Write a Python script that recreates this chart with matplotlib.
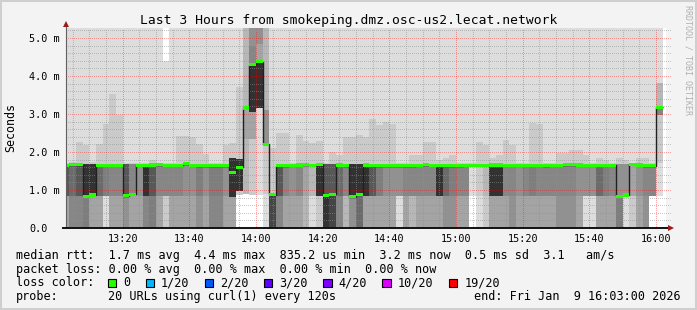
import numpy as np
import matplotlib
matplotlib.use('Agg')
import matplotlib.pyplot as plt
from matplotlib.patches import Rectangle

W, H = 697, 310
MONO = 'DejaVu Sans Mono'

# one sample every 120 s, sample end times in minutes after 13:00
t_end = np.arange(4, 184, 2)

# median rtt per sample (ms)
med = [
    1.65, 1.67, 1.67, 0.83, 0.87, 1.65, 1.65, 1.65, 1.65, 0.85,
    0.89, 1.65, 1.65, 1.66, 1.67, 1.65, 1.65, 1.65, 1.69, 1.65,
    1.64, 1.64, 1.64, 1.64, 1.64, 1.47, 1.60, 3.16, 4.30, 4.38,
    2.20, 0.88, 1.64, 1.64, 1.65, 1.66, 1.67, 1.65, 1.68, 0.85,
    0.89, 1.66, 1.64, 0.82, 0.89, 1.66, 1.64, 1.64, 1.64, 1.64,
    1.64, 1.64, 1.64, 1.65, 1.67, 1.65, 1.64, 1.64, 1.64, 1.64,
    1.65, 1.65, 1.65, 1.65, 1.66, 1.66, 1.65, 1.65, 1.65, 1.65,
    1.65, 1.65, 1.64, 1.65, 1.65, 1.67, 1.67, 1.66, 1.65, 1.65,
    1.65, 1.65, 1.65, 0.83, 0.87, 1.68, 1.66, 1.64, 1.64, 3.18,
]

# top of the second smoke band above the median (ms)
upper = [
    1.70, 1.75, 2.27, 2.18, 1.75, 2.22, 2.74, 3.53, 2.97, 1.72,
    1.72, 1.72, 1.72, 1.80, 1.72, 1.72, 1.72, 2.42, 2.42, 2.40,
    2.22, 1.95, 1.72, 1.72, 2.18, 2.25, 3.72, 3.16, 4.79, 4.83,
    3.10, 2.10, 2.49, 2.49, 1.72, 2.45, 2.30, 2.23, 2.29, 1.72,
    2.00, 1.92, 2.40, 2.40, 2.45, 2.40, 2.88, 2.71, 2.80, 2.74,
    1.72, 1.72, 1.92, 1.92, 2.27, 2.27, 1.79, 1.83, 1.92, 1.72,
    1.72, 1.72, 2.27, 2.18, 1.83, 1.92, 2.32, 2.18, 1.72, 1.72,
    2.77, 2.74, 1.72, 1.72, 1.97, 1.97, 2.05, 2.05, 1.92, 1.72,
    1.83, 1.79, 1.72, 1.83, 1.79, 1.72, 1.83, 1.85, 1.72, 3.81,
]

# gray level of the dense core band and of the band below it
core_gray = [
    0x58, 0x6b, 0x58, 0x32, 0x32, 0x6b, 0x7e, 0x86, 0x86, 0x58,
    0x86, 0x91, 0x32, 0x58, 0x86, 0x86, 0x86, 0x86, 0x91, 0x91,
    0x7e, 0x91, 0x7e, 0x7e, 0x91, 0x32, 0x32, 0xa4, 0x32, 0x32,
    0xca, 0x45, 0x58, 0x86, 0x91, 0x86, 0xa4, 0xb7, 0x32, 0x58,
    0x58, 0x6b, 0x86, 0x32, 0x32, 0x32, 0x58, 0x7e, 0x91, 0x91,
    0x91, 0x86, 0x86, 0x86, 0x86, 0x86, 0x32, 0x6b, 0x7e, 0x86,
    0x86, 0xdd, 0xca, 0xb7, 0x32, 0x32, 0x86, 0x86, 0x91, 0x86,
    0x7e, 0x86, 0x86, 0x86, 0x86, 0x86, 0x86, 0x91, 0x91, 0x91,
    0x6b, 0x7e, 0x86, 0x91, 0x91, 0xa4, 0x91, 0x86, 0x86, 0x86,
]
base_gray = [
    0xa4, 0x86, 0x86, 0x7e, 0xa4, 0xa4, 0xdd, 0xa4, 0xa4, 0x91,
    0xa4, 0xa4, 0x86, 0x7e, 0xa4, 0xca, 0xa4, 0xa4, 0xa4, 0xa4,
    0x91, 0xa4, 0x86, 0x86, 0xa4, 0xa4, 0xca, 0xb7, 0xca, 0xdd,
    0xdd, 0x45, 0x86, 0xa4, 0xa4, 0xa4, 0xb7, 0xdd, 0xca, 0x32,
    0x45, 0x86, 0xb7, 0x91, 0x6b, 0xa4, 0xa4, 0xa4, 0xa4, 0xa4,
    0xdd, 0xa4, 0xb7, 0xa4, 0xa4, 0xa4, 0xa4, 0x91, 0x91, 0xa4,
    0xa4, 0xdd, 0xdd, 0xca, 0xa4, 0xa4, 0xa4, 0x91, 0xa4, 0xa4,
    0xa4, 0xa4, 0xa4, 0xa4, 0x91, 0x91, 0x91, 0xa4, 0xdd, 0xdd,
    0xa4, 0xa4, 0xa4, 0x7e, 0xdd, 0xca, 0xa4, 0x91, 0xdd, 0xdd,
]

# samples that differ from the usual shape
core_top_fix = {25: 1.85, 26: 1.81, 27: 3.16, 28: 4.30, 29: 4.38, 30: 2.20, 31: 0.88, 89: 3.18}
core_bot_fix = {25: 0.82, 26: 0.97, 27: 2.33, 28: 3.04, 29: 3.17, 30: 0.90, 31: 0.0, 89: 2.97}
mid_band = {28: (2.34, 0xa4), 89: (1.70, 0xca)}
cap_gray_fix = {27: 0xb7, 28: 0x91, 29: 0x91, 30: 0xb7}
upper_gray_fix = {28: 0x86, 29: 0xa4, 30: 0x91, 89: 0xb7}
smoke_max_fix = {15: 4.4}
smoke_min_fix = {26: 0.87, 27: 0.90, 28: 0.88, 29: 0.88, 61: 0.85, 88: 0.85, 89: 0.85}

hour_labels = ['13:20', '13:40', '14:00', '14:20', '14:40', '15:00', '15:20', '15:40', '16:00']
y_labels = ['0.0', '1.0 m', '2.0 m', '3.0 m', '4.0 m', '5.0 m']

title = 'Last 3 Hours from smokeping.dmz.osc-us2.lecat.network'
line_rtt = 'median rtt:  1.7 ms avg  4.4 ms max  835.2 us min  3.2 ms now  0.5 ms sd  3.1   am/s'
line_loss = 'packet loss: 0.00 % avg  0.00 % max  0.00 % min  0.00 % now'
loss_names = ['0', '1/20', '2/20', '3/20', '4/20', '10/20', '19/20']
loss_colors = ['#26ff00', '#00b8ff', '#0059ff', '#5e00ff', '#7e00ff', '#dd00ff', '#ff0000']
probe_text = '20 URLs using curl(1) every 120s'
end_text = 'end: Fri Jan  9 16:03:00 2026'


def gray(v):
    return '#%02x%02x%02x' % (v, v, v)


n = len(med)
med = np.array(med)
left = t_end - 2
core_top = np.full(n, 1.68)
core_bot = np.full(n, 0.85)
smoke_min = np.zeros(n)
smoke_max = np.full(n, 6.0)
cap_gray = [0xdd] * n
upper_gray = [0xca] * n
for k, v in core_top_fix.items():
    core_top[k] = v
for k, v in core_bot_fix.items():
    core_bot[k] = v
for k, v in smoke_min_fix.items():
    smoke_min[k] = v
for k, v in smoke_max_fix.items():
    smoke_max[k] = v
for k, v in cap_gray_fix.items():
    cap_gray[k] = v
for k, v in upper_gray_fix.items():
    upper_gray[k] = v
upper = np.maximum(np.array(upper), core_top)

fig = plt.figure(figsize=(W / 100, H / 100), dpi=100)
fig.patch.set_facecolor('#f3f3f3')
ax = fig.add_axes([66 / W, 1 - 228 / H, 600 / W, 200 / H])
ax.set_facecolor('white')
ax.set_xlim(3, 183)
ax.set_ylim(0, 200 / 38)
for s in ax.spines.values():
    s.set_visible(False)

bar_kw = dict(width=2, align='edge', linewidth=0, antialiased=False, zorder=1)
# smoke, outer band first, inner bands drawn over it
ax.bar(left, smoke_max - smoke_min, bottom=smoke_min, color=[gray(c) for c in cap_gray], **bar_kw)
ax.bar(left, upper - core_top, bottom=core_top, color=[gray(c) for c in upper_gray], **bar_kw)
ax.bar(left, np.maximum(core_bot - smoke_min, 0), bottom=smoke_min,
       color=[gray(c) for c in base_gray], **bar_kw)
for k, (lo, c) in mid_band.items():
    ax.bar(left[k], core_bot[k] - lo, bottom=lo, color=gray(c), **bar_kw)
ax.bar(left, core_top - core_bot, bottom=core_bot, color=[gray(c) for c in core_gray], **bar_kw)

# dotted grid on top of the smoke
dots = (0, (1, 1.4))
grid_kw = dict(lw=0.72, ls=dots, zorder=3, antialiased=False)
for m in range(5, 181, 5):
    if m % 20:
        ax.vlines(m, 0, 200 / 38, color='#909090', alpha=0.5, **grid_kw)
    else:
        ax.vlines(m, 0, 200 / 38, color='#ff0000', alpha=0.35, **grid_kw)
for i in range(1, 27):
    yv = i * 0.2
    if i % 5:
        ax.hlines(yv, 3, 184.5, color='#909090', alpha=0.5, clip_on=False, **grid_kw)
    else:
        ax.hlines(yv, 3, 184.5, color='#ff0000', alpha=0.35, clip_on=False, **grid_kw)

# median line and loss-coloured median marks
edges = np.append(left, t_end[-1])
ax.stairs(med, edges, baseline=None, color='#202020', lw=1.0, zorder=4)
ax.bar(left, 0.085, bottom=med - 0.042, color='#26ff00', **dict(bar_kw, zorder=5))

# axes with arrows
ax.plot([3, 3], [0, 5.33], color='#606060', lw=0.8, clip_on=False, zorder=6)
ax.plot([3], [5.36], marker='^', color='#9b1c1c', ms=4, mew=0, clip_on=False, zorder=7)
ax.plot([2.2, 184.2], [0, 0], color='#111111', lw=1.4, clip_on=False, zorder=6)
ax.plot([184.6], [0], marker='>', color='#9b1c1c', ms=4, mew=0, clip_on=False, zorder=7)

ax.set_xticks(range(20, 181, 20), labels=hour_labels)
ax.set_yticks(range(0, 6), labels=y_labels)
ax.tick_params(axis='x', length=0, pad=4.5, labelsize=7.3)
ax.tick_params(axis='y', length=0, pad=26.5, labelsize=7.3)
for lab in ax.get_xticklabels() + ax.get_yticklabels():
    lab.set_fontfamily(MONO)
for lab in ax.get_yticklabels():
    lab.set_horizontalalignment('left')


def fx(px):
    return px / W


def fy(py):
    return 1 - py / H


fig.text(0.5, fy(24), title, ha='center', va='baseline', fontsize=9.4, family=MONO)
fig.text(fx(11), fy(127), 'Seconds', rotation=90, ha='center', va='center', fontsize=8.4, family=MONO)
fig.text(fx(688), fy(5), 'RRDTOOL / TOBI OETIKER', rotation=270, ha='center', va='top',
         fontsize=6, family=MONO, color='#b0b0b0')

x0 = 15.6
adv = 7.08
fs = 8.47
fig.text(fx(x0), fy(259), line_rtt, va='baseline', fontsize=fs, family=MONO)
fig.text(fx(x0), fy(272.5), line_loss, va='baseline', fontsize=fs, family=MONO)
fig.text(fx(x0), fy(286.3), 'loss color:', va='baseline', fontsize=fs, family=MONO)
fig.text(fx(x0), fy(300), 'probe:', va='baseline', fontsize=fs, family=MONO)
fig.text(fx(x0 + 13 * adv), fy(300), probe_text, va='baseline', fontsize=fs, family=MONO)
fig.text(fx(681), fy(300), end_text, ha='right', va='baseline', fontsize=fs, family=MONO)

bx = x0 + 13 * adv
for name, col in zip(loss_names, loss_colors):
    fig.add_artist(Rectangle((fx(bx), fy(287)), 8.4 / W, 8 / H, transform=fig.transFigure,
                             facecolor=col, edgecolor='black', lw=0.8))
    tx = bx + 15.5
    fig.text(fx(tx), fy(286.3), name, va='baseline', fontsize=fs, family=MONO)
    bx = tx + len(name) * adv + 15.4

fig.add_artist(Rectangle((0, 0), 1, 1, transform=fig.transFigure, fill=False,
                         edgecolor='#cfcfcf', lw=2.9))

fig.savefig('out.png', dpi=100, facecolor=fig.get_facecolor())
